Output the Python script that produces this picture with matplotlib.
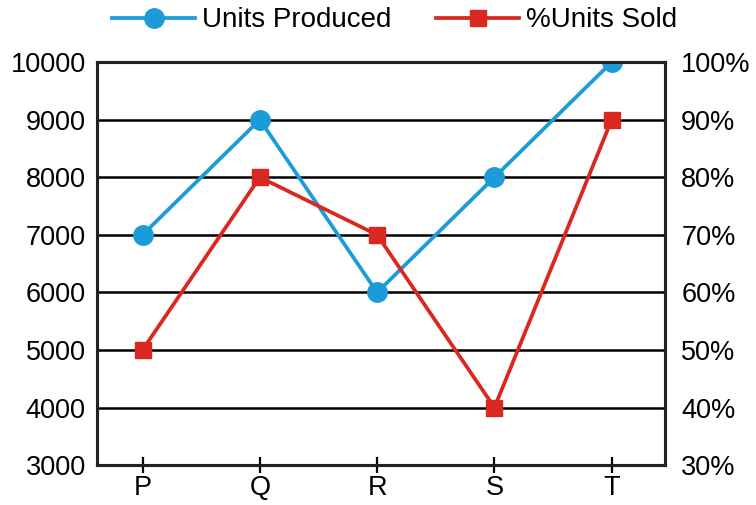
"""
Units produced vs % units sold, dual axis line chart.
"""

import matplotlib.pyplot as plt

plt.rcParams['font.family'] = ['Liberation Sans', 'DejaVu Sans']

companies = ['P', 'Q', 'R', 'S', 'T']
units_produced = [7000, 9000, 6000, 8000, 10000]
pct_units_sold = [50, 80, 70, 40, 90]
left_ticks = [3000, 4000, 5000, 6000, 7000, 8000, 9000, 10000]
right_ticks = [30, 40, 50, 60, 70, 80, 90, 100]

BLUE = '#1b9bd7'
RED = '#d8281f'

fig = plt.figure(figsize=(7.56, 5.05), dpi=100)
ax = fig.add_axes([0.128, 0.079, 0.751, 0.798])
ax2 = ax.twinx()

xs = list(range(len(companies)))

for y in left_ticks[1:-1]:
    ax.axhline(y, color='black', lw=1.8, zorder=1)

l1, = ax.plot(xs, units_produced, color=BLUE, lw=2.7, marker='o', ms=14,
              label='Units Produced', zorder=3)
l2, = ax2.plot(xs, pct_units_sold, color=RED, lw=2.7, marker='s', ms=12,
               label='%Units Sold', zorder=3)

ax.set_xlim(-0.39, 4.45)
ax.set_ylim(3000, 10000)
ax2.set_ylim(30, 100)

ax.set_xticks(xs)
ax.set_xticklabels(companies)
ax.set_yticks(left_ticks)
ax2.set_yticks(right_ticks)
ax2.set_yticklabels([f'{v}%' for v in right_ticks])

ax.tick_params(axis='x', direction='inout', length=12, width=1.6, labelsize=19.5, pad=1)
ax.tick_params(axis='y', length=0, labelsize=19.5, pad=8)
ax2.tick_params(axis='y', length=0, labelsize=19.5, pad=12)

for a in (ax, ax2):
    for s in a.spines.values():
        s.set_linewidth(2.2)
        s.set_color('#222222')

fig.legend(handles=[l1, l2], loc='upper center', bbox_to_anchor=(0.522, 1.035),
           ncol=2, frameon=False, fontsize=20, handlelength=3.0,
           columnspacing=1.6, handletextpad=0.25)

fig.savefig('out.png', dpi=100)
